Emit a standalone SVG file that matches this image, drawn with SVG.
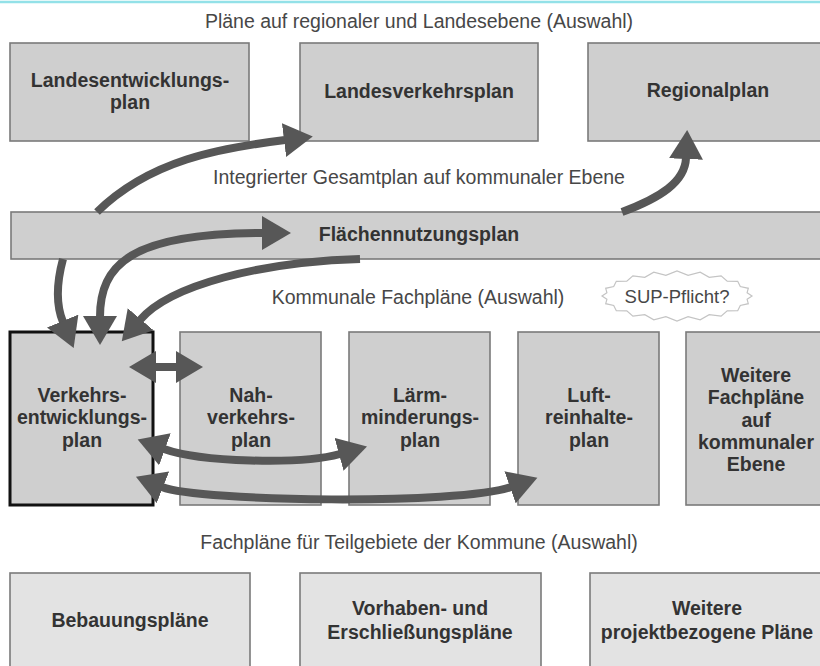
<svg xmlns="http://www.w3.org/2000/svg" width="820" height="666" viewBox="0 0 820 666">
<style>
.box{fill:#cfcfcf;stroke:#7a7a7a;stroke-width:1.6}
.lbox{fill:#e3e3e3;stroke:#7a7a7a;stroke-width:1.6}
.main{fill:#cfcfcf;stroke:#111;stroke-width:3}
.bt{font-family:"Liberation Sans",Arial,sans-serif;font-weight:bold;font-size:19.5px;fill:#333;text-anchor:middle}
.lab{font-family:"Liberation Sans",Arial,sans-serif;font-size:19.5px;fill:#474747;text-anchor:middle}
.arr{fill:none;stroke:#575757;stroke-width:8}
</style>
<defs>
<marker id="ah" markerUnits="userSpaceOnUse" markerWidth="30" markerHeight="34" refX="1" refY="17" orient="auto-start-reverse" viewBox="0 0 30 34"><path d="M0,0 L29,17 L0,34 z" fill="#575757"/></marker>
<marker id="ahs" markerUnits="userSpaceOnUse" markerWidth="28" markerHeight="32" refX="1" refY="16" orient="auto-start-reverse" viewBox="0 0 28 32"><path d="M0,0 L27,16 L0,32 z" fill="#575757"/></marker>
</defs>
<rect width="820" height="666" fill="#fff"/>
<line x1="0" y1="2" x2="820" y2="2" stroke="#93e1e8" stroke-width="2.5"/>

<g id="labels">
<text class="lab" x="419" y="28">Pläne auf regionaler und Landesebene (Auswahl)</text>
<text class="lab" x="419" y="184">Integrierter Gesamtplan auf kommunaler Ebene</text>
<text class="lab" x="418" y="304">Kommunale Fachpläne (Auswahl)</text>
<text class="lab" x="419" y="549">Fachpläne für Teilgebiete der Kommune (Auswahl)</text>
</g>

<g id="landesentwicklungsplan"><rect class="box" x="10" y="43" width="239" height="98"/><text class="bt" x="130" y="87">Landesentwicklungs-</text><text class="bt" x="130" y="109">plan</text></g>
<g id="landesverkehrsplan"><rect class="box" x="300" y="43" width="238" height="98"/><text class="bt" x="419" y="98">Landesverkehrsplan</text></g>
<g id="regionalplan"><rect class="box" x="588" y="43" width="245" height="98"/><text class="bt" x="708" y="97">Regionalplan</text></g>

<g id="flaechennutzungsplan"><rect class="box" x="11" y="212" width="822" height="47"/><text class="bt" x="419" y="241">Flächennutzungsplan</text></g>

<g id="sup">
<polygon points="752,296 747.1,299.3 748.3,303.7 740.3,305.5 737.7,310.7 727.2,310.8 721.1,316.2 709.2,314.7 700.2,319.8 688.1,316.7 677,321 665.9,316.7 653.8,319.8 644.8,314.7 632.9,316.2 626.8,310.8 616.3,310.7 613.7,305.5 605.7,303.7 606.9,299.3 602,296 606.9,292.7 605.7,288.3 613.7,286.5 616.3,281.3 626.8,281.2 632.9,275.8 644.8,277.3 653.8,272.2 665.9,275.3 677,271 688.1,275.3 700.2,272.2 709.2,277.3 721.1,275.8 727.2,281.2 737.7,281.3 740.3,286.5 748.3,288.3 747.1,292.7" fill="#fff" stroke="#c4c4c4" stroke-width="1.2"/>
<text class="lab" x="677" y="303" style="font-size:18.5px">SUP-Pflicht?</text>
</g>

<g id="verkehrsentwicklungsplan"><rect class="main" x="10" y="332" width="143" height="173"/><text class="bt" x="82" y="402">Verkehrs-</text><text class="bt" x="82" y="424">entwicklungs-</text><text class="bt" x="82" y="447">plan</text></g>
<g id="nahverkehrsplan"><rect class="box" x="180" y="332" width="141" height="173"/><text class="bt" x="251" y="402">Nah-</text><text class="bt" x="251" y="424">verkehrs-</text><text class="bt" x="251" y="447">plan</text></g>
<g id="laermminderungsplan"><rect class="box" x="349" y="332" width="141" height="173"/><text class="bt" x="420" y="402">Lärm-</text><text class="bt" x="420" y="424">minderungs-</text><text class="bt" x="420" y="447">plan</text></g>
<g id="luftreinhalteplan"><rect class="box" x="518" y="332" width="141" height="173"/><text class="bt" x="589" y="402">Luft-</text><text class="bt" x="589" y="424">reinhalte-</text><text class="bt" x="589" y="447">plan</text></g>
<g id="weitere-fachplaene"><rect class="box" x="686" y="332" width="141" height="173"/><text class="bt" x="756" y="382">Weitere</text><text class="bt" x="756" y="404">Fachpläne</text><text class="bt" x="756" y="427">auf</text><text class="bt" x="756" y="449">kommunaler</text><text class="bt" x="756" y="471">Ebene</text></g>

<g id="bebauungsplaene"><rect class="lbox" x="10" y="573" width="240" height="100"/><text class="bt" x="130" y="627">Bebauungspläne</text></g>
<g id="vorhabenplaene"><rect class="lbox" x="300" y="573" width="241" height="100"/><text class="bt" x="420" y="615">Vorhaben- und</text><text class="bt" x="420" y="639">Erschließungspläne</text></g>
<g id="weitere-projektplaene"><rect class="lbox" x="590" y="573" width="240" height="100"/><text class="bt" x="707" y="615">Weitere</text><text class="bt" x="707" y="639">projektbezogene Pläne</text></g>

<g id="connectors">
<path class="arr" d="M97 212 C150 160 220 148 285 140" marker-end="url(#ah)"/>
<path class="arr" d="M622 212 C660 198 685 182 686 158" marker-end="url(#ah)"/>
<path class="arr" d="M100 317 C100 265 130 233 263 233" marker-start="url(#ah)" marker-end="url(#ah)"/>
<path class="arr" d="M63 259 C56 285 56 305 63 322" marker-end="url(#ah)"/>
<path class="arr" d="M360 259 C260 262 170 285 140 320" marker-end="url(#ah)"/>
<path class="arr" d="M155 367 L177 367" marker-start="url(#ahs)" marker-end="url(#ahs)"/>
<path class="arr" d="M164 449 C200 462 300 465 340 454" marker-start="url(#ah)" marker-end="url(#ah)"/>
<path class="arr" d="M162 487 C200 502 460 505 511 487" marker-start="url(#ah)" marker-end="url(#ah)"/>
</g>
</svg>
